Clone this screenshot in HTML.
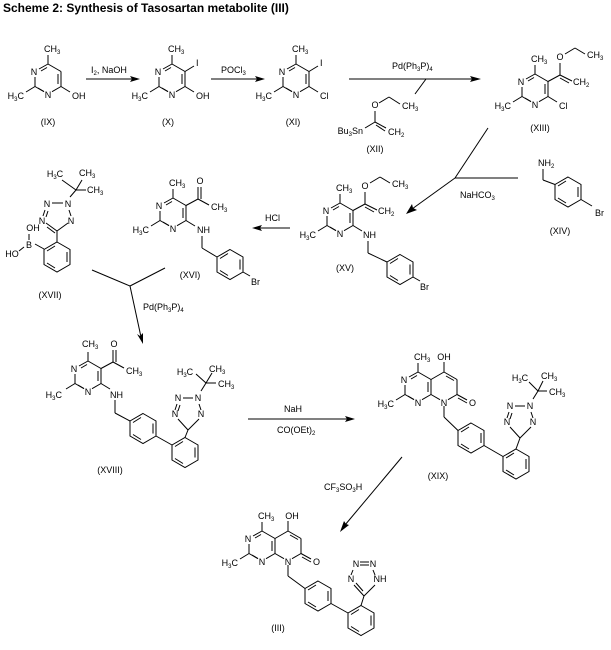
<!DOCTYPE html>
<html><head><meta charset="utf-8"><style>
html,body{margin:0;padding:0;background:#fff;width:611px;height:650px;overflow:hidden}
svg{display:block}
text{font-family:"Liberation Sans",sans-serif;font-size:9px;fill:#000}
.t{font-size:12px;font-weight:bold}
.m{text-anchor:middle}.e{text-anchor:end}
line,polyline,polygon,path{stroke:#000;stroke-width:1;fill:none}
.ah{fill:#000;stroke:none}
</style></head><body>
<svg width="611" height="650" viewBox="0 0 611 650">
<defs>
<g id="py">
<line x1="0" y1="-15" x2="13" y2="-7.5"/>
<line x1="13" y1="-7.5" x2="13" y2="7.5"/>
<line x1="10" y1="-5" x2="10" y2="5"/>
<line x1="13" y1="7.5" x2="4" y2="12.7"/>
<line x1="-4" y1="12.7" x2="-13" y2="7.5"/>
<line x1="-10" y1="9" x2="-4" y2="12.5"/>
<line x1="-13" y1="7.5" x2="-13" y2="-2"/>
<line x1="-9" y1="-10" x2="0" y2="-15"/>
<line x1="-7" y1="-8" x2="-1" y2="-11.5"/>
</g>
<g id="bz">
<polygon points="0,-15 13,-7.5 13,7.5 0,15 -13,7.5 -13,-7.5"/>
<line x1="10" y1="-5" x2="10" y2="5"/>
<line x1="-2" y1="-11" x2="-10" y2="-6"/>
<line x1="-2" y1="11" x2="-10" y2="6"/>
</g>
<g id="pyd">
<line x1="13" y1="-7.5" x2="26" y2="-15"/>
<line x1="26" y1="-15" x2="39" y2="-7.5"/>
<line x1="28" y1="-11" x2="36" y2="-6.5"/>
<line x1="39" y1="-7.5" x2="39" y2="7.5"/>
<line x1="39" y1="7.5" x2="30" y2="12.7"/>
<line x1="22" y1="12.7" x2="13" y2="7.5"/>
<line x1="26" y1="-15" x2="26" y2="-25"/>
<line x1="39" y1="7.5" x2="49" y2="13"/>
<line x1="40" y1="11" x2="49" y2="16"/>
<line x1="26" y1="19" x2="26" y2="30"/>
</g>
</defs>

<text x="3" y="12" class="t">Scheme 2: Synthesis of Tasosartan metabolite (III)</text>

<!-- IX -->
<g transform="translate(48,79)">
<use href="#py"/>
<line x1="0" y1="-15" x2="0" y2="-24"/><line x1="-13" y1="7.5" x2="-22" y2="13"/><line x1="13" y1="7.5" x2="22" y2="13"/>
<text x="-14" y="-4" class="m">N</text><text x="0" y="19" class="m">N</text>
<text x="-4" y="-27">CH<tspan font-size="6" dy="2">3</tspan></text>
<text x="-24" y="20" class="e">H<tspan font-size="6" dy="2">3</tspan><tspan dy="-2">C</tspan></text>
<text x="24" y="20">OH</text>
</g>
<text x="48" y="125" class="m">(IX)</text>
<line x1="86" y1="79" x2="134" y2="79"/><polygon class="ah" points="140,79 130,76 132,79 130,82"/>
<text x="91" y="73">I<tspan font-size="6" dy="2">2</tspan><tspan dy="-2">, NaOH</tspan></text>

<!-- X -->
<g transform="translate(172,79)">
<use href="#py"/>
<line x1="0" y1="-15" x2="0" y2="-24"/><line x1="-13" y1="7.5" x2="-22" y2="13"/><line x1="13" y1="7.5" x2="22" y2="13"/><line x1="13" y1="-7.5" x2="22" y2="-13"/>
<text x="-14" y="-4" class="m">N</text><text x="0" y="19" class="m">N</text>
<text x="-4" y="-27">CH<tspan font-size="6" dy="2">3</tspan></text>
<text x="-24" y="20" class="e">H<tspan font-size="6" dy="2">3</tspan><tspan dy="-2">C</tspan></text>
<text x="24" y="20">OH</text><text x="24" y="-13">I</text>
</g>
<text x="168" y="125" class="m">(X)</text>
<line x1="211" y1="79" x2="259" y2="79"/><polygon class="ah" points="265,79 255,76 257,79 255,82"/>
<text x="221" y="73">POCl<tspan font-size="6" dy="2">3</tspan></text>

<!-- XI -->
<g transform="translate(296,79)">
<use href="#py"/>
<line x1="0" y1="-15" x2="0" y2="-24"/><line x1="-13" y1="7.5" x2="-22" y2="13"/><line x1="13" y1="7.5" x2="22" y2="13"/><line x1="13" y1="-7.5" x2="22" y2="-13"/>
<text x="-14" y="-4" class="m">N</text><text x="0" y="19" class="m">N</text>
<text x="-4" y="-27">CH<tspan font-size="6" dy="2">3</tspan></text>
<text x="-24" y="20" class="e">H<tspan font-size="6" dy="2">3</tspan><tspan dy="-2">C</tspan></text>
<text x="24" y="20">Cl</text><text x="24" y="-13">I</text>
</g>
<text x="293" y="125" class="m">(XI)</text>

<!-- arrow to XIII -->
<line x1="349" y1="79" x2="474" y2="79"/><polygon class="ah" points="481,79 470,76 472,79 470,82"/>
<text x="392" y="69">Pd(Ph<tspan font-size="6" dy="2">3</tspan><tspan dy="-2">P)</tspan><tspan font-size="6" dy="2">4</tspan></text>
<line x1="426" y1="79" x2="415" y2="94"/>
<!-- XII -->
<text x="375" y="108" class="m">O</text>
<line x1="379" y1="103" x2="389" y2="97"/><line x1="389" y1="97" x2="400" y2="104"/>
<text x="402" y="109">CH<tspan font-size="6" dy="2">3</tspan></text>
<line x1="375" y1="111" x2="375" y2="122"/>
<line x1="375" y1="122" x2="365" y2="128"/>
<line x1="375" y1="122" x2="386" y2="128"/><line x1="376" y1="125" x2="385" y2="131"/>
<text x="363" y="134" class="e">Bu<tspan font-size="6" dy="2">3</tspan><tspan dy="-2">Sn</tspan></text>
<text x="388" y="135">CH<tspan font-size="6" dy="2">2</tspan></text>
<text x="375" y="152" class="m">(XII)</text>

<!-- XIII -->
<g transform="translate(535,89)">
<use href="#py"/>
<line x1="0" y1="-15" x2="0" y2="-24"/><line x1="-13" y1="7.5" x2="-22" y2="13"/><line x1="13" y1="7.5" x2="22" y2="13"/>
<line x1="13" y1="-7.5" x2="25" y2="-14"/><line x1="25" y1="-14" x2="25" y2="-26"/>
<line x1="25" y1="-14" x2="37" y2="-8"/><line x1="25" y1="-11" x2="34" y2="-6"/>
<line x1="30" y1="-35" x2="40" y2="-41"/><line x1="40" y1="-41" x2="50" y2="-35"/>
<text x="25" y="-29" class="m">O</text>
<text x="52" y="-31">CH<tspan font-size="6" dy="2">3</tspan></text>
<text x="38" y="-4">CH<tspan font-size="6" dy="2">2</tspan></text>
<text x="-14" y="-4" class="m">N</text><text x="0" y="19" class="m">N</text>
<text x="-4" y="-27">CH<tspan font-size="6" dy="2">3</tspan></text>
<text x="-24" y="20" class="e">H<tspan font-size="6" dy="2">3</tspan><tspan dy="-2">C</tspan></text>
<text x="24" y="20">Cl</text>
</g>
<text x="540" y="131" class="m">(XIII)</text>

<!-- branch to XV -->
<line x1="488" y1="128" x2="455" y2="178"/>
<line x1="455" y1="178" x2="518" y2="178"/>
<line x1="455" y1="178" x2="412" y2="209"/>
<polygon class="ah" points="406,214 412,204 413,208 417,210"/>
<text x="460" y="198">NaHCO<tspan font-size="6" dy="2">3</tspan></text>

<!-- XIV -->
<text x="538" y="166">NH<tspan font-size="6" dy="2">2</tspan></text>
<line x1="543" y1="169" x2="543" y2="180"/><line x1="543" y1="180" x2="555" y2="184.5"/>
<g transform="translate(568,192)"><use href="#bz"/></g>
<line x1="581" y1="199.5" x2="592" y2="206"/>
<text x="595" y="216">Br</text>
<text x="560" y="234" class="m">(XIV)</text>

<!-- XV -->
<g transform="translate(340,218)">
<use href="#py"/>
<line x1="0" y1="-15" x2="0" y2="-24"/><line x1="-13" y1="7.5" x2="-22" y2="13"/><line x1="13" y1="7.5" x2="22" y2="13"/>
<line x1="13" y1="-7.5" x2="25" y2="-14"/><line x1="25" y1="-14" x2="25" y2="-26"/>
<line x1="25" y1="-14" x2="37" y2="-8"/><line x1="25" y1="-11" x2="34" y2="-6"/>
<line x1="30" y1="-35" x2="40" y2="-41"/><line x1="40" y1="-41" x2="50" y2="-35"/>
<text x="25" y="-29" class="m">O</text>
<text x="52" y="-31">CH<tspan font-size="6" dy="2">3</tspan></text>
<text x="38" y="-4">CH<tspan font-size="6" dy="2">2</tspan></text>
<text x="-14" y="-4" class="m">N</text><text x="0" y="19" class="m">N</text>
<text x="-4" y="-27">CH<tspan font-size="6" dy="2">3</tspan></text>
<text x="-24" y="20" class="e">H<tspan font-size="6" dy="2">3</tspan><tspan dy="-2">C</tspan></text>
<text x="23" y="20">NH</text>
<line x1="28" y1="23" x2="28" y2="35"/>
</g>
<line x1="368" y1="253" x2="387" y2="262"/>
<g transform="translate(400,269.5)"><use href="#bz"/></g>
<line x1="413" y1="277" x2="420" y2="281"/>
<text x="420" y="290">Br</text>
<text x="345" y="271" class="m">(XV)</text>

<!-- HCl arrow -->
<line x1="290" y1="228" x2="258" y2="228"/><polygon class="ah" points="252,228 262,225 260,228 262,231"/>
<text x="265" y="221">HCl</text>

<!-- XVI -->
<g transform="translate(173,213)">
<use href="#py"/>
<line x1="0" y1="-15" x2="0" y2="-24"/><line x1="-13" y1="7.5" x2="-22" y2="13"/><line x1="13" y1="7.5" x2="22" y2="13"/>
<line x1="13" y1="-7.5" x2="25" y2="-14"/><line x1="25" y1="-14" x2="25" y2="-26"/><line x1="28" y1="-14" x2="28" y2="-26"/>
<line x1="25" y1="-14" x2="36" y2="-8"/>
<text x="27" y="-29" class="m">O</text>
<text x="38" y="-3">CH<tspan font-size="6" dy="2">3</tspan></text>
<text x="-14" y="-4" class="m">N</text><text x="0" y="19" class="m">N</text>
<text x="-4" y="-27">CH<tspan font-size="6" dy="2">3</tspan></text>
<text x="-24" y="20" class="e">H<tspan font-size="6" dy="2">3</tspan><tspan dy="-2">C</tspan></text>
<text x="24" y="20">NH</text>
<line x1="29" y1="23" x2="29" y2="35"/>
</g>
<line x1="202" y1="248" x2="217" y2="257"/>
<g transform="translate(230,264.5)"><use href="#bz"/></g>
<line x1="243" y1="272" x2="250" y2="276"/>
<text x="251" y="285">Br</text>
<text x="190" y="278" class="m">(XVI)</text>

<!-- XVII -->
<text x="55" y="177" class="m">H<tspan font-size="6" dy="2">3</tspan><tspan dy="-2">C</tspan></text>
<text x="79" y="176">CH<tspan font-size="6" dy="2">3</tspan></text>
<text x="87" y="193">CH<tspan font-size="6" dy="2">3</tspan></text>
<line x1="76" y1="190" x2="86" y2="190"/><line x1="76" y1="190" x2="62" y2="180"/><line x1="76" y1="190" x2="82" y2="180"/>
<line x1="76" y1="190" x2="70" y2="197"/>
<text x="47" y="207" class="m">N</text><text x="68" y="207" class="m">N</text>
<line x1="52" y1="203" x2="63" y2="203"/>
<text x="42" y="224" class="m">N</text><text x="71" y="224" class="m">N</text>
<line x1="45" y1="210" x2="43" y2="216"/><line x1="48" y1="211" x2="46" y2="217"/>
<line x1="69" y1="210" x2="71" y2="216"/>
<line x1="46" y1="223" x2="57" y2="231"/><line x1="47" y1="227" x2="55" y2="233"/>
<line x1="68" y1="223" x2="57" y2="231"/>
<line x1="57" y1="231" x2="57" y2="242"/>
<g transform="translate(57,257)"><use href="#bz"/></g>
<line x1="44" y1="249" x2="35" y2="244"/>
<text x="33" y="231" class="m">OH</text>
<line x1="29" y1="234" x2="29" y2="240"/>
<text x="29" y="248" class="m">B</text>
<line x1="24" y1="247" x2="19" y2="251"/>
<text x="12" y="257" class="m">HO</text>
<text x="50" y="298" class="m">(XVII)</text>

<!-- branch Pd -->
<line x1="92" y1="270" x2="130" y2="286"/><line x1="165" y1="268" x2="130" y2="286"/>
<line x1="130" y1="286" x2="141" y2="337"/>
<polygon class="ah" points="143,344 137,334 140,336 143,333"/>
<text x="143" y="310">Pd(Ph<tspan font-size="6" dy="2">3</tspan><tspan dy="-2">P)</tspan><tspan font-size="6" dy="2">4</tspan></text>

<!-- XVIII -->
<g transform="translate(88,376)">
<use href="#py"/>
<line x1="0" y1="-15" x2="0" y2="-24"/><line x1="-13" y1="7.5" x2="-22" y2="13"/><line x1="13" y1="7.5" x2="22" y2="13"/>
<line x1="13" y1="-7.5" x2="25" y2="-14"/><line x1="25" y1="-14" x2="25" y2="-26"/><line x1="28" y1="-14" x2="28" y2="-26"/>
<line x1="25" y1="-14" x2="36" y2="-8"/>
<text x="26" y="-29" class="m">O</text>
<text x="38" y="-2">CH<tspan font-size="6" dy="2">3</tspan></text>
<text x="-14" y="-4" class="m">N</text><text x="0" y="19" class="m">N</text>
<text x="-6" y="-29">CH<tspan font-size="6" dy="2">3</tspan></text>
<text x="-26" y="22" class="e">H<tspan font-size="6" dy="2">3</tspan><tspan dy="-2">C</tspan></text>
<text x="22" y="22">NH</text>
<line x1="27" y1="24" x2="27" y2="37"/>
</g>
<line x1="115" y1="413" x2="130" y2="421"/>
<g transform="translate(143,428.5)"><use href="#bz"/></g>
<line x1="156" y1="436" x2="172" y2="445"/>
<g transform="translate(185,452.5)"><use href="#bz"/></g>
<line x1="185" y1="437.5" x2="188" y2="430"/>
<text x="178" y="401" class="m">N</text><text x="198" y="401" class="m">N</text>
<line x1="183" y1="398" x2="193" y2="398"/>
<text x="175" y="417" class="m">N</text><text x="201" y="417" class="m">N</text>
<line x1="177" y1="404" x2="175" y2="410"/><line x1="180" y1="405" x2="178" y2="411"/>
<line x1="199" y1="404" x2="201" y2="410"/>
<line x1="178" y1="419" x2="188" y2="430"/><line x1="199" y1="419" x2="188" y2="430"/>
<line x1="201" y1="391" x2="206" y2="383"/>
<line x1="206" y1="383" x2="196" y2="374"/><line x1="206" y1="383" x2="216" y2="383"/><line x1="206" y1="383" x2="212" y2="373"/>
<text x="185" y="375" class="m">H<tspan font-size="6" dy="2">3</tspan><tspan dy="-2">C</tspan></text>
<text x="209" y="372">CH<tspan font-size="6" dy="2">3</tspan></text>
<text x="218" y="387">CH<tspan font-size="6" dy="2">3</tspan></text>
<text x="110" y="473" class="m">(XVIII)</text>

<!-- NaH arrow -->
<line x1="248" y1="419" x2="349" y2="419"/><polygon class="ah" points="355,419 345,416 347,419 345,422"/>
<text x="284" y="412">NaH</text>
<text x="277" y="433">CO(OEt)<tspan font-size="6" dy="2">2</tspan></text>

<!-- XIX -->
<g transform="translate(418,387)">
<use href="#py"/><use href="#pyd"/>
<line x1="0" y1="-15" x2="0" y2="-24"/><line x1="-13" y1="7.5" x2="-22" y2="13"/>
<text x="-14" y="-4" class="m">N</text><text x="0" y="19" class="m">N</text><text x="26" y="19" class="m">N</text>
<text x="-4" y="-27">CH<tspan font-size="6" dy="2">3</tspan></text>
<text x="26" y="-27" class="m">OH</text>
<text x="51" y="19">O</text>
<text x="-24" y="20" class="e">H<tspan font-size="6" dy="2">3</tspan><tspan dy="-2">C</tspan></text>
</g>
<line x1="444" y1="417" x2="458" y2="430.5"/>
<g transform="translate(471,438)"><use href="#bz"/></g>
<line x1="484" y1="445.5" x2="503" y2="456.5"/>
<g transform="translate(516,464)"><use href="#bz"/></g>
<line x1="516" y1="449" x2="520" y2="438"/>
<text x="510" y="409" class="m">N</text><text x="530" y="409" class="m">N</text>
<line x1="515" y1="406" x2="525" y2="406"/>
<text x="507" y="425" class="m">N</text><text x="533" y="425" class="m">N</text>
<line x1="509" y1="412" x2="507" y2="418"/><line x1="512" y1="413" x2="510" y2="419"/>
<line x1="531" y1="412" x2="533" y2="418"/>
<line x1="510" y1="427" x2="520" y2="438"/><line x1="531" y1="427" x2="520" y2="438"/>
<line x1="533" y1="399" x2="538" y2="391"/>
<line x1="538" y1="391" x2="529" y2="382"/><line x1="538" y1="391" x2="547" y2="391"/><line x1="538" y1="391" x2="543" y2="381"/>
<text x="520" y="381" class="m">H<tspan font-size="6" dy="2">3</tspan><tspan dy="-2">C</tspan></text>
<text x="541" y="379">CH<tspan font-size="6" dy="2">3</tspan></text>
<text x="549" y="395">CH<tspan font-size="6" dy="2">3</tspan></text>
<text x="438" y="479" class="m">(XIX)</text>

<!-- CF3SO3H arrow -->
<line x1="402" y1="457" x2="345" y2="525"/>
<polygon class="ah" points="340,532 344,521 346,524 349,525"/>
<text x="324" y="490">CF<tspan font-size="6" dy="2">3</tspan><tspan dy="-2">SO</tspan><tspan font-size="6" dy="2">3</tspan><tspan dy="-2">H</tspan></text>

<!-- III -->
<g transform="translate(262,546)">
<use href="#py"/><use href="#pyd"/>
<line x1="0" y1="-15" x2="0" y2="-24"/><line x1="-13" y1="7.5" x2="-22" y2="13"/>
<text x="-14" y="-4" class="m">N</text><text x="0" y="19" class="m">N</text><text x="26" y="19" class="m">N</text>
<text x="-4" y="-27">CH<tspan font-size="6" dy="2">3</tspan></text>
<text x="30" y="-27" class="m">OH</text>
<text x="51" y="19">O</text>
<text x="-24" y="20" class="e">H<tspan font-size="6" dy="2">3</tspan><tspan dy="-2">C</tspan></text>
</g>
<line x1="288" y1="576" x2="305" y2="588.5"/>
<g transform="translate(318,596)"><use href="#bz"/></g>
<line x1="331" y1="603.5" x2="348" y2="613"/>
<g transform="translate(361,620.5)"><use href="#bz"/></g>
<line x1="361" y1="605.5" x2="364" y2="596"/>
<text x="356" y="567" class="m">N</text><text x="373" y="567" class="m">N</text>
<line x1="360" y1="562" x2="369" y2="562"/><line x1="360" y1="565" x2="369" y2="565"/>
<text x="351" y="582" class="m">N</text><text x="380" y="582" class="m">NH</text>
<line x1="353" y1="570" x2="351" y2="575"/>
<line x1="373" y1="570" x2="375" y2="575"/>
<line x1="354" y1="585" x2="364" y2="596"/><line x1="356" y1="583" x2="363" y2="591"/><line x1="375" y1="585" x2="364" y2="596"/>
<text x="278" y="631" class="m">(III)</text>
</svg>
</body></html>
